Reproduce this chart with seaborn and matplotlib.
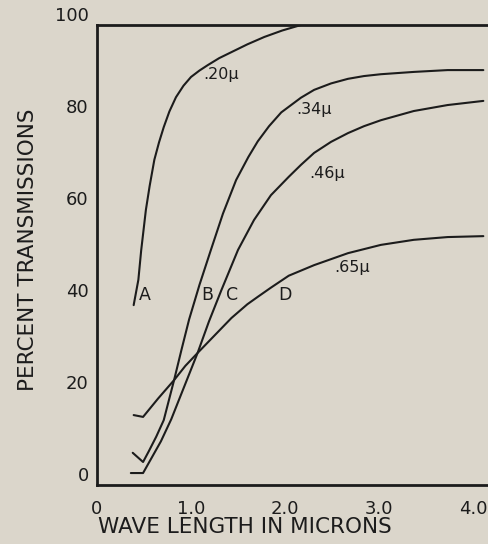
import pandas as pd
import matplotlib
matplotlib.use('Agg')
import matplotlib.pyplot as plt
import seaborn as sns

# transmission curves (wave length in microns, percent)
a_x = [0.39, 0.44, 0.47, 0.52, 0.56, 0.61, 0.66, 0.71, 0.77, 0.84, 0.92, 1.00, 1.09,
       1.18, 1.30, 1.43, 1.60, 1.78, 1.97, 2.17]
a_y = [39.1, 44.6, 51.0, 59.8, 65.0, 70.7, 74.5, 77.8, 81.2, 84.3, 86.8, 88.7, 90.1,
       91.3, 92.8, 94.1, 95.8, 97.4, 98.8, 100.0]

b_x = [0.38, 0.49, 0.55, 0.63, 0.71, 0.82, 0.90, 0.98, 1.09, 1.21, 1.34, 1.48, 1.61,
       1.71, 1.83, 1.96, 2.17, 2.31, 2.49, 2.67, 2.84, 3.02, 3.37, 3.73, 4.11]
b_y = [7.0, 5.0, 7.3, 10.5, 14.1, 22.8, 29.5, 36.0, 43.5, 51.0, 59.0, 66.3, 71.3,
       74.7, 78.0, 81.0, 84.2, 85.9, 87.3, 88.3, 88.9, 89.3, 89.8, 90.2, 90.2]

c_x = [0.36, 0.49, 0.57, 0.68, 0.79, 0.93, 1.07, 1.19, 1.32, 1.50, 1.67, 1.85, 2.04,
       2.17, 2.31, 2.49, 2.67, 2.84, 3.02, 3.37, 3.73, 4.11]
c_y = [2.6, 2.6, 5.5, 9.5, 14.3, 21.5, 28.7, 35.5, 42.2, 51.1, 57.6, 63.0, 67.0,
       69.6, 72.2, 74.6, 76.5, 78.0, 79.3, 81.3, 82.6, 83.5]

d_x = [0.39, 0.49, 0.65, 0.82, 0.94, 1.07, 1.25, 1.43, 1.60, 1.71, 1.85, 2.04, 2.31,
       2.67, 3.02, 3.37, 3.73, 4.11]
d_y = [15.2, 14.8, 18.8, 22.8, 25.9, 28.7, 32.5, 36.3, 39.3, 40.9, 42.9, 45.5, 47.8,
       50.4, 52.2, 53.3, 53.9, 54.1]

curve_names = ['A', 'B', 'C', 'D']
size_labels = ['.20\u03bc', '.34\u03bc', '.46\u03bc', '.65\u03bc']
size_label_pos = [(1.13, 89.3), (2.12, 81.6), (2.26, 67.8), (2.52, 47.2)]
letter_pos = [(0.45, 41.3), (1.11, 41.3), (1.37, 41.3), (1.93, 41.3)]

x_ticks = [0, 1, 2, 3, 4]
x_tick_labels = ['0', '1.0', '2.0', '3.0', '4.0']
y_ticks = [0, 20, 40, 60, 80, 100]
y_tick_labels = ['0', '20', '40', '60', '80', '100']

paper = '#dbd6cb'
ink = '#1c1c1c'

sns.set_style('white')
plt.rcParams['font.family'] = ['DejaVu Sans']

frames = []
for name, xs, ys in zip(curve_names, [a_x, b_x, c_x, d_x], [a_y, b_y, c_y, d_y]):
    frames.append(pd.DataFrame({'wave': xs, 'trans': ys, 'curve': name}))
df = pd.concat(frames, ignore_index=True)

fig = plt.figure(figsize=(4.88, 5.44), dpi=100, facecolor=paper)
ax = fig.add_axes([97 / 488, 59 / 544, 391 / 488, 460 / 544])
ax.set_facecolor(paper)

sns.lineplot(data=df, x='wave', y='trans', hue='curve', units='curve',
             estimator=None, sort=False, palette=[ink] * 4, linewidth=1.5,
             legend=False, ax=ax)

for txt, (tx, ty) in zip(size_labels, size_label_pos):
    ax.text(tx, ty, txt, fontsize=11.5, color=ink, va='center', ha='left')
for txt, (tx, ty) in zip(curve_names, letter_pos):
    ax.text(tx, ty, txt, fontsize=12.5, color=ink, va='center', ha='left')

ax.set_xlim(0, 391 / 94)
ax.set_ylim(0, 100)
ax.set_xticks(x_ticks, x_tick_labels)
ax.set_yticks(y_ticks, y_tick_labels, va='bottom')
ax.tick_params(axis='both', length=0, labelsize=13, colors=ink)
ax.tick_params(axis='x', pad=11)
ax.tick_params(axis='y', pad=6)

for side in ['left', 'bottom', 'top']:
    ax.spines[side].set_visible(True)
    ax.spines[side].set_color(ink)
    ax.spines[side].set_linewidth(2.0)
ax.spines['right'].set_visible(False)

ax.set_xlabel('WAVE LENGTH IN MICRONS', fontsize=15.5, color=ink)
ax.set_ylabel('PERCENT TRANSMISSIONS', fontsize=15.5, color=ink)
ax.xaxis.set_label_coords(0.379, -0.07)
ax.yaxis.set_label_coords(-0.15, 0.511)

fig.savefig('out.png', dpi=100, facecolor=paper)
